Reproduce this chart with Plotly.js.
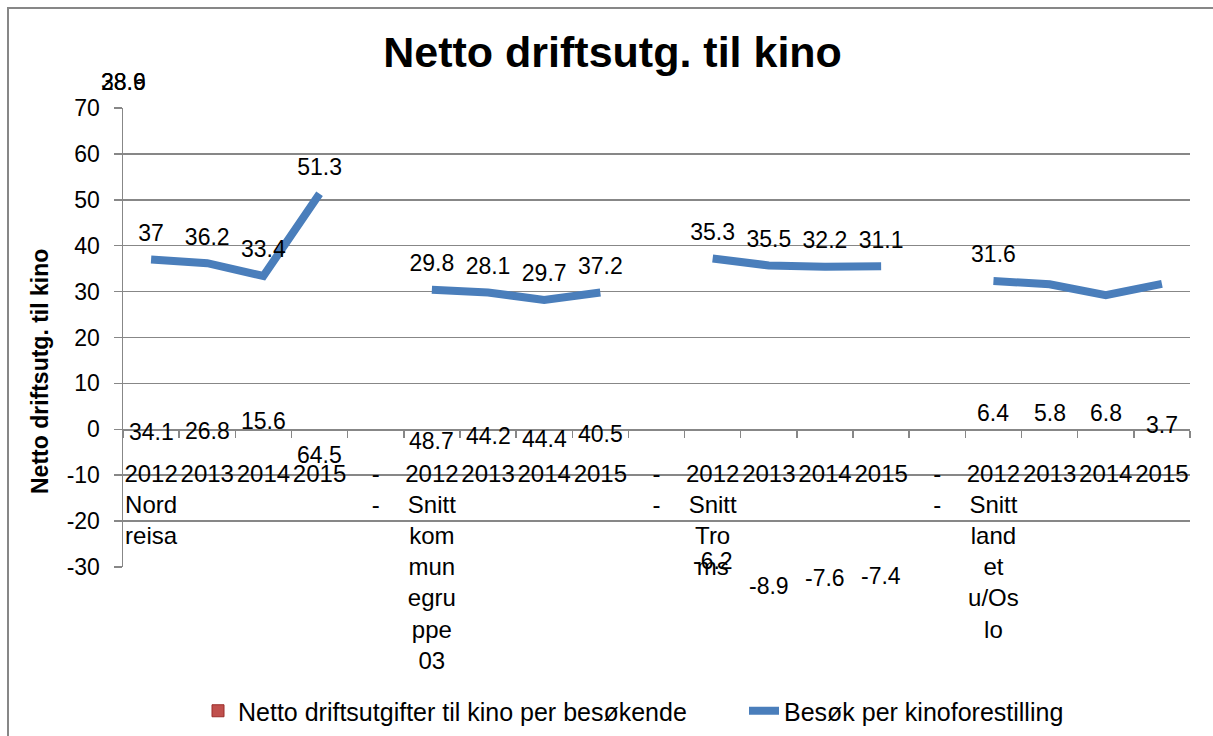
<!DOCTYPE html>
<html>
<head>
<meta charset="utf-8">
<script src="https://cdn.plot.ly/plotly-3.0.1.min.js"></script>
<style>html,body{margin:0;padding:0;background:#fff;}</style>
</head>
<body>
<div id="chart" style="width:1213px;height:736px;"></div>
<script>
// ---- data ----
const tickLabels = [
  "2012<br>Nord<br>reisa", "2013", "2014", "2015", "-<br>-",
  "2012<br>Snitt<br>kom<br>mun<br>egru<br>ppe<br>03", "2013", "2014", "2015", "-<br>-",
  "2012<br>Snitt<br>Tro<br>ms", "2013", "2014", "2015", "-<br>-",
  "2012<br>Snitt<br>land<br>et<br>u/Os<br>lo", "2013", "2014", "2015"
];
// Besøk per kinoforestilling (line)
const visitsPerShow = [37, 36.2, 33.4, 51.3, null, 30.4, 29.8, 28.2, 29.8, null, 37.2, 35.7, 35.4, 35.5, null, 32.3, 31.6, 29.2, 31.7];
const visitsLabels = ["37", "36.2", "33.4", "51.3", "", "29.8", "28.1", "29.7", "37.2", "", "35.3", "35.5", "32.2", "31.1", "", "31.6", "", "", ""];
// Netto driftsutgifter til kino per besøkende (bars, off-scale as in the reference)
const costPerVisitor = [34.1, 26.8, 15.6, 64.5, null, 48.7, 44.2, 44.4, 40.5, null, -6.2, -8.9, -7.6, -7.4, null, 6.4, 5.8, 6.8, 3.7];
const costLabels = ["34.1", "26.8", "15.6", "64.5", "", "48.7", "44.2", "44.4", "40.5", "", "-6.2", "-8.9", "-7.6", "-7.4", "", "6.4", "5.8", "6.8", "3.7"];
const costLabelLevel = [-0.6, -0.3, 1.9, -5.5, null, -2.6, -1.5, -2.2, -1.1, null, -28.7, -34.1, -32.4, -31.9, null, 3.6, 3.6, 3.6, 1.0];
const strayLabels = ["38.9", "28.6"];
const strayLevel = 75.6;
const yTicks = [-30, -20, -10, 0, 10, 20, 30, 40, 50, 60, 70];
const yTitle = "Netto driftsutg. til kino";
const chartTitle = "Netto driftsutg. til kino";
const seriesNames = ["Netto driftsutgifter til kino per besøkende", "Besøk per kinoforestilling"];

// ---- chart ----
const FONT = "Liberation Sans, Arial, sans-serif";
const GRID = "#878787";
const idx = tickLabels.map((_, i) => i);
const yMin = yTicks[0], yMax = yTicks[yTicks.length - 1];
const frac = v => (v - yMin) / (yMax - yMin);
const txtFont = {family: FONT, size: 23, color: "#000"};

const traces = [
  {
    type: "bar", name: seriesNames[0], x: idx, y: costPerVisitor, yaxis: "y2", legend: "legend",
    marker: {color: "#c0504d", line: {color: "#9b2d2a", width: 1}},
    hoverinfo: "skip"
  },
  {
    type: "scatter", mode: "lines", name: seriesNames[1], x: idx, y: visitsPerShow, legend: "legend2",
    line: {color: "#4a7ebb", width: 8}, connectgaps: false, cliponaxis: false
  },
  {
    type: "scatter", mode: "markers+text", x: idx, y: visitsPerShow, text: visitsLabels,
    textposition: "top center", textfont: txtFont,
    marker: {size: 19, opacity: 0}, showlegend: false, cliponaxis: false, hoverinfo: "skip"
  }
];

const annotations = [
  {text: "<b>" + yTitle + "</b>", textangle: -90, xref: "paper", yref: "paper",
   x: (40 - 123) / 1067, y: (567 - 372) / 459, xanchor: "center", yanchor: "middle", showarrow: false,
   font: txtFont}
];
strayLabels.forEach(t => annotations.push({text: t, xref: "paper", yref: "paper", x: 0, y: frac(strayLevel),
  xanchor: "center", yanchor: "middle", showarrow: false, font: txtFont}));
costLabels.forEach((t, i) => {
  if (!t) return;
  annotations.push({text: t, xref: "x", yref: "paper", x: idx[i], y: frac(costLabelLevel[i]),
    xanchor: "center", yanchor: "middle", showarrow: false, font: txtFont});
});

const legendBase = {orientation: "h", xref: "container", xanchor: "left",
  yref: "container", y: (736 - 711) / 736, yanchor: "middle",
  font: {family: FONT, size: 25, color: "#000"}, bgcolor: "rgba(0,0,0,0)"};

const layout = {
  width: 1213, height: 736,
  margin: {l: 123, r: 23, t: 108, b: 169},
  paper_bgcolor: "#fff", plot_bgcolor: "#fff",
  font: txtFont,
  title: {text: "<b>" + chartTitle + "</b>", font: {family: FONT, size: 43, color: "#000"},
          x: 0.505, xref: "container", xanchor: "center", y: 0.929, yref: "container", yanchor: "middle"},
  showlegend: true,
  legend: Object.assign({}, legendBase, {x: 198 / 1213}),
  legend2: Object.assign({}, legendBase, {x: 744 / 1213}),
  xaxis: {
    type: "linear", range: [-0.5, tickLabels.length - 0.5], anchor: "free", position: frac(0),
    tickmode: "array", tickvals: idx, ticktext: tickLabels, ticks: "", showgrid: false, zeroline: false,
    showline: true, linecolor: GRID, linewidth: 1.5, ticklabelstandoff: 22, automargin: false,
    tickangle: 0, tickfont: {family: FONT, size: 24, color: "#000"},
    minor: {tick0: -0.5, dtick: 1, ticks: "outside", ticklen: 7, tickcolor: GRID, tickwidth: 1.5, showgrid: false}
  },
  yaxis: {
    range: [yMin, yMax], tickmode: "array", tickvals: yTicks, ticktext: yTicks.map(String),
    showgrid: true, gridcolor: GRID, gridwidth: 1.5, automargin: false,
    zeroline: false, showline: true, linecolor: GRID, linewidth: 1.5,
    ticks: "outside", ticklen: 8, tickcolor: GRID, tickwidth: 1.5, ticklabelstandoff: 9,
    tickfont: txtFont
  },
  yaxis2: {overlaying: "y", range: [1000, 2000], visible: false, side: "right", automargin: false},
  annotations: annotations,
  shapes: [
    {type: "rect", xref: "paper", yref: "paper", x0: (8 - 123) / 1067, x1: 1.1, y0: -0.5, y1: (567 - 8) / 459,
     line: {color: "#878787", width: 2}, fillcolor: "rgba(0,0,0,0)", layer: "below"}
  ]
};

Plotly.newPlot("chart", traces, layout, {displayModeBar: false, staticPlot: true});
</script>
</body>
</html>
